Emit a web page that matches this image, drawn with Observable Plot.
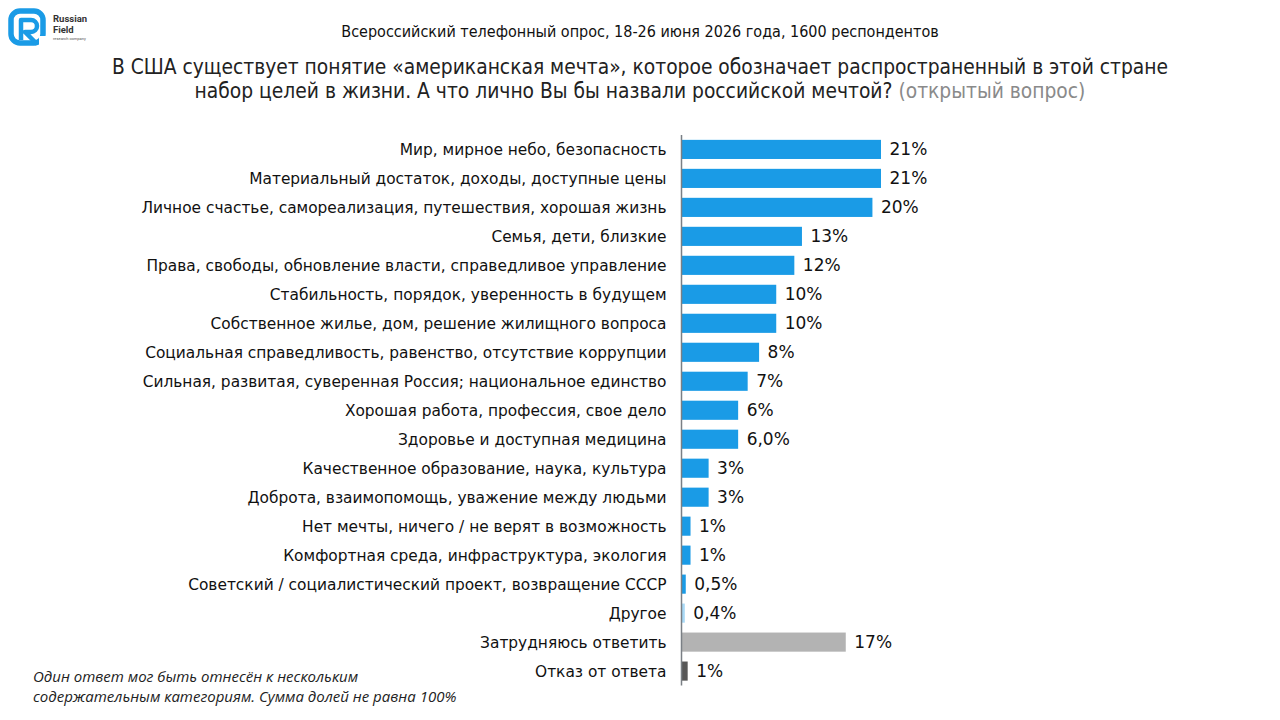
<!DOCTYPE html>
<html><head><meta charset="utf-8">
<script src="https://cdn.jsdelivr.net/npm/d3@7"></script>
<script src="https://cdn.jsdelivr.net/npm/@observablehq/plot@0.6"></script>
<style>
html,body{margin:0;padding:0;background:#fff;width:1280px;height:720px;overflow:hidden;position:relative}
.abs{position:absolute}
#sub{left:0;width:1280px;top:22px;text-align:center;font-family:"DejaVu Sans Condensed","DejaVu Sans";font-size:16px;color:#111}
#title{left:0;width:1280px;top:55px;text-align:center;font-family:"DejaVu Sans Condensed","DejaVu Sans";font-size:20.8px;line-height:24px;color:#222}
#title .g{color:#8a8a8a}
#note{left:33px;top:666px;font-family:"Open Sans";font-style:italic;font-size:15px;line-height:20px;color:#222}
#chart{left:0;top:0}
#logo{left:6px;top:6px}
</style></head>
<body>
<div id="chart" class="abs"></div>
<svg id="logo" class="abs" width="110" height="44" viewBox="0 0 110 44">
  <rect x="5" y="5" width="32" height="32" rx="9" fill="none" stroke="#1a9be6" stroke-width="5.5"/>
  <rect x="33" y="30" width="9" height="9" fill="#fff"/>
  <path d="M15 34 V14 H25 a6 6 0 0 1 0 12 H19 L31 38" fill="none" stroke="#1a9be6" stroke-width="4.5" stroke-linejoin="round"/>
  <text x="47" y="16" font-family="Roboto" font-weight="700" font-size="9.5" fill="#333">Russian</text>
  <text x="47" y="27" font-family="Roboto" font-weight="700" font-size="9.5" fill="#333">Field</text>
  <text x="47" y="34" font-family="Roboto" font-size="4" fill="#555">research company</text>
</svg>
<div id="sub" class="abs">Всероссийский телефонный опрос, 18-26 июня 2026 года, 1600 респондентов</div>
<div id="title" class="abs">В США существует понятие «американская мечта», которое обозначает распространенный в этой стране<br>набор целей в жизни. А что лично Вы бы назвали российской мечтой? <span class="g">(открытый вопрос)</span></div>
<div id="note" class="abs">Один ответ мог быть отнесён к нескольким<br>содержательным категориям. Сумма долей не равна 100%</div>
<script>
const categories = [
  "Мир, мирное небо, безопасность",
  "Материальный достаток, доходы, доступные цены",
  "Личное счастье, самореализация, путешествия, хорошая жизнь",
  "Семья, дети, близкие",
  "Права, свободы, обновление власти, справедливое управление",
  "Стабильность, порядок, уверенность в будущем",
  "Собственное жилье, дом, решение жилищного вопроса",
  "Социальная справедливость, равенство, отсутствие коррупции",
  "Сильная, развитая, суверенная Россия; национальное единство",
  "Хорошая работа, профессия, свое дело",
  "Здоровье и доступная медицина",
  "Качественное образование, наука, культура",
  "Доброта, взаимопомощь, уважение между людьми",
  "Нет мечты, ничего / не верят в возможность",
  "Комфортная среда, инфраструктура, экология",
  "Советский / социалистический проект, возвращение СССР",
  "Другое",
  "Затрудняюсь ответить",
  "Отказ от ответа"
];
const values = [21, 21, 20.1, 12.7, 11.9, 10, 10, 8.2, 7, 6, 6, 2.9, 2.9, 1, 1, 0.5, 0.4, 17.3, 0.7];
const valueLabels = ["21%","21%","20%","13%","12%","10%","10%","8%","7%","6%","6,0%","3%","3%","1%","1%","0,5%","0,4%","17%","1%"];
const groups = ["main","main","main","main","main","main","main","main","main","main","main","main","main","main","main","main","other","dk","refuse"];

const data = categories.map((c, i) => ({cat: c, v: values[i], lab: valueLabels[i], g: groups[i]}));

const chart = Plot.plot({
  width: 1280,
  height: 720,
  marginLeft: 681,
  marginRight: 399,
  marginTop: 130,
  marginBottom: 29.5,
  style: {fontFamily: "DejaVu Sans", background: "transparent"},
  x: {domain: [0, 21], axis: null},
  y: {domain: categories, padding: 0.34, round: false, label: null, axis: null},
  color: {domain: ["main","other","dk","refuse"], range: ["#1a9be6","#a9d9f6","#b3b3b3","#575757"]},
  marks: [
    Plot.barX(data, {y: "cat", x: "v", fill: "g"}),
    Plot.ruleX([0], {stroke: "#7a7f85", strokeWidth: 1.5, insetTop: 5, insetBottom: 5}),
    Plot.text(data, {y: "cat", x: "v", text: "lab", textAnchor: "start", dx: 8, fontSize: 17, fill: "#111"}),
    Plot.axisY({tickSize: 0, tickPadding: 15, fontSize: 15.4, fill: "#111", label: null, tickFormat: d => d})
  ]
});
document.getElementById("chart").appendChild(chart);
</script>
</body></html>
